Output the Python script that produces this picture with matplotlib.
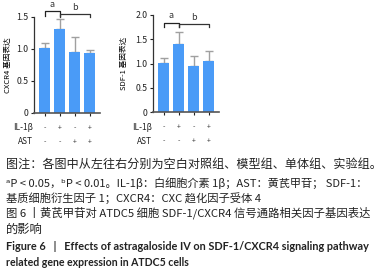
import matplotlib
matplotlib.use("Agg")
import matplotlib.pyplot as plt

plt.rcParams["font.family"] = ["Noto Sans CJK SC", "DejaVu Sans"]

groups = ["空白对照组", "模型组", "单体组", "实验组"]
il1b = ["-", "+", "-", "+"]
ast = ["-", "-", "+", "+"]

cxcr4_mean = [1.01, 1.32, 0.96, 0.94]
cxcr4_err = [0.08, 0.15, 0.22, 0.05]
sdf1_mean = [1.02, 1.41, 0.95, 1.06]
sdf1_err = [0.10, 0.24, 0.20, 0.19]

caption_lines = [
    "图注：各图中从左往右分别为空白对照组、模型组、单体组、实验组。",
    "ᵃP < 0.05，ᵇP < 0.01。IL-1β：白细胞介素 1β；AST：黄芪甲苷； SDF-1：",
    "基质细胞衍生因子 1；CXCR4：CXC 趋化因子受体 4",
    "图 6 丨黄芪甲苷对 ATDC5 细胞 SDF-1/CXCR4 信号通路相关因子基因表达",
    "的影响",
]
title_en = [
    "Figure 6   |   Effects of astragaloside IV on SDF-1/CXCR4 signaling pathway",
    "related gene expression in ATDC5 cells",
]

BAR = "#4a9bf7"
W, H = 385, 273

fig = plt.figure(figsize=(3.85, 2.73), dpi=100)


def panel(rect, mean, err, ymax, yticks, ylabel, br_a, br_b, lab_x):
    ax = fig.add_axes(rect)
    x = range(len(mean))
    ax.bar(x, mean, width=0.74, color=BAR, zorder=2)
    ax.errorbar(x, mean, yerr=[[0] * len(err), err], fmt="none",
                ecolor="#a0a0a0", elinewidth=1.0, capsize=3, capthick=1.0, zorder=1)
    ax.set_ylim(0, ymax)
    ax.set_xlim(-0.72, 3.68)
    ax.set_yticks(yticks)
    ax.set_yticklabels([("0" if t == 0 else f"{t:.1f}") for t in yticks], fontsize=6.3)
    ax.set_xticks(list(x))
    ax.set_xticklabels([])
    ax.tick_params(axis="y", length=2.5, width=0.8, pad=1.5, colors="#222222")
    ax.tick_params(axis="x", length=2.5, width=0.8, colors="#222222")
    for s in ["top", "right"]:
        ax.spines[s].set_visible(False)
    ax.spines["left"].set_color("#333333")
    ax.spines["bottom"].set_color("#555555")
    ax.spines["left"].set_linewidth(0.9)
    ax.spines["bottom"].set_linewidth(1.2)
    ax.set_ylabel(ylabel, fontsize=5.5, labelpad=2)
    ax.yaxis.set_label_coords(lab_x, 0.5)

    # significance brackets
    ya, da = br_a
    ax.plot([0, 0, 1, 1], [ya - da, ya, ya, ya - da], color="#222222",
            lw=0.9, clip_on=False)
    ax.text(0.5, ya + da * 0.6, "a", ha="center", va="bottom", fontsize=6.5,
            color="#333333")
    yb, db = br_b
    ax.plot([1, 1, 3, 3], [yb - db, yb, yb, yb - db], color="#333333",
            lw=0.9, clip_on=False)
    ax.text(2, yb + db * 0.6, "b", ha="center", va="bottom", fontsize=6.5,
            color="#333333")

    # treatment rows
    tr = ax.get_xaxis_transform()
    rowy = [-0.155, -0.30]
    for lab, vals, yy in [("IL-1β", il1b, rowy[0]), ("AST", ast, rowy[1])]:
        ax.text(-0.02, yy, lab, transform=ax.transAxes, ha="right", va="center",
                fontsize=6, color="#222222")
        for xi, v in zip(x, vals):
            ax.text(xi, yy, v, transform=tr, ha="center", va="center",
                    fontsize=5, color="#333333")
    return ax


panel([34 / W, 1 - 113 / H, 66 / W, 96 / H], cxcr4_mean, cxcr4_err, 1.5,
      [0, 0.5, 1.0, 1.5], "CXCR4 基因表达", (1.59, 0.07), (1.55, 0.05), -0.33)
panel([153 / W, 1 - 112 / H, 66 / W, 97 / H], sdf1_mean, sdf1_err, 2.0,
      [0, 0.5, 1.0, 1.5, 2.0], "SDF-1 基因表达", (1.84, 0.08), (1.81, 0.06), -0.38)

renderer = fig.canvas.get_renderer()


def fit_text(t, yy, right, size, **kw):
    # shrink/grow font so the line ends where it does in the reference
    txt = fig.text(6 / W, 1 - yy / H, t, ha="left", va="center", fontsize=size,
                   color="#222222", **kw)
    w = txt.get_window_extent(renderer).width
    txt.set_fontsize(size * (right - 6) / w)
    return txt


cap_y = [164, 183, 198, 213, 229]
cap_right = [381, 370, 262, 371, 43]
for t, yy, r in zip(caption_lines, cap_y, cap_right):
    fit_text(t, yy, r, 8.8)

en_y = [247, 262]
en_right = [370, 191]
for t, yy, r in zip(title_en, en_y, en_right):
    fit_text(t, yy, r, 8.0, fontweight="bold", family=["Lato", "DejaVu Sans"])

fig.savefig("out.png", dpi=100)
